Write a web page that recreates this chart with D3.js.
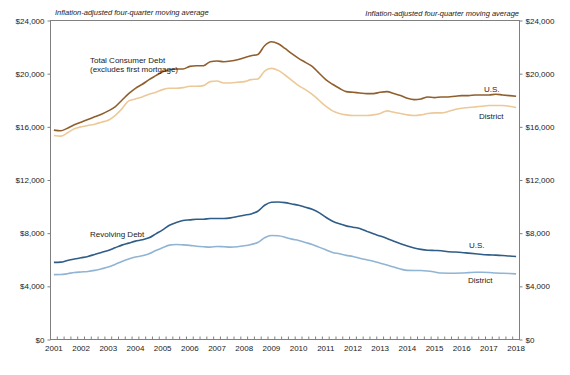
<!DOCTYPE html>
<html>
<head>
    <meta charset="utf-8">
    <title></title>
    <style>
        body { margin: 0; background: #fff; }
        text { font-family: "Liberation Sans", Arial, sans-serif; fill: #222; }
        .axis path, .axis line { stroke: #808080; }
        path.line { fill: none; stroke-width: 1.6px; }
    </style>
</head>
<body>
    <script src="https://cdn.jsdelivr.net/npm/d3@7"></script>
    <script>
        // years on the axis, one label per first quarter
        var years = [2001, 2002, 2003, 2004, 2005, 2006, 2007, 2008, 2009, 2010, 2011, 2012, 2013, 2014, 2015, 2016, 2017, 2018];
        var yTicks = [0, 4000, 8000, 12000, 16000, 20000, 24000];

        // quarterly values, 2001Q1 .. 2018Q1
        var totalUS = [15750, 15700, 15900, 16150, 16350, 16550, 16750, 16950, 17200, 17500, 18000, 18500, 18900, 19200, 19550, 19850,
            20150, 20300, 20350, 20350, 20550, 20600, 20600, 20900, 20950, 20900, 20950, 21050, 21200, 21350, 21450, 22100,
            22400, 22250, 21900, 21500, 21150, 20850, 20550, 20050, 19550, 19200, 18900, 18650, 18600, 18550, 18500, 18500,
            18600, 18650, 18500, 18350, 18150, 18050, 18100, 18250, 18200, 18250, 18250, 18300, 18350, 18350, 18400, 18400,
            18400, 18450, 18400, 18350, 18300];
        var totalDistrict = [15350, 15300, 15550, 15850, 16000, 16100, 16200, 16350, 16500, 16850, 17350, 17950, 18100, 18250, 18450, 18600,
            18800, 18900, 18900, 18950, 19050, 19050, 19100, 19400, 19450, 19300, 19300, 19350, 19400, 19550, 19600, 20200,
            20400, 20250, 19900, 19500, 19100, 18800, 18450, 18000, 17550, 17200, 17000, 16900, 16850, 16850, 16850, 16900,
            17000, 17200, 17100, 17000, 16900, 16850, 16900, 17000, 17050, 17050, 17150, 17300, 17400, 17450, 17500, 17550,
            17600, 17600, 17600, 17550, 17450];
        var revolvingUS = [5800, 5820, 5950, 6050, 6150, 6250, 6400, 6550, 6700, 6900, 7100, 7250, 7400, 7500, 7650, 7950,
            8250, 8600, 8800, 8950, 9000, 9050, 9050, 9100, 9100, 9100, 9150, 9250, 9350, 9450, 9650, 10100,
            10330, 10350, 10300, 10200, 10100, 9950, 9800, 9550, 9200, 8900, 8700, 8550, 8450, 8350, 8150, 7950,
            7780, 7600, 7400, 7200, 7030, 6880, 6780, 6720, 6700, 6680, 6600, 6580, 6550, 6500, 6450, 6400,
            6370, 6350, 6320, 6280, 6250];
        var revolvingDistrict = [4880, 4890, 4950, 5040, 5080, 5120, 5200, 5320, 5450, 5650, 5870, 6050, 6200, 6300, 6450, 6700,
            6900, 7100, 7150, 7120, 7080, 7020, 6980, 6950, 7000, 6980, 6950, 6980, 7050, 7150, 7300, 7650,
            7820, 7800, 7700, 7550, 7450, 7300, 7150, 6950, 6750, 6550, 6450, 6330, 6250, 6120, 6000, 5880,
            5740, 5600, 5450, 5300, 5200, 5190, 5190, 5150, 5080, 5000, 4990, 4990, 5000, 5030, 5060, 5060,
            5040, 5000, 4980, 4960, 4940];

        var quarters = [];
        years.forEach(function(y) {
            for (var q = 1; q <= 4; q++) {
                if (y === 2018 && q > 1) break;
                quarters.push(y + "Q" + q);
            }
        });

        var width = 570, height = 375;
        var plotLeft = 50.5, plotRight = 519.5, plotTop = 20.5, plotBottom = 339.5;

        var svg = d3.select("body").append("svg")
            .attr("width", width)
            .attr("height", height);

        var x = d3.scalePoint()
            .domain(quarters)
            .range([plotLeft, plotRight])
            .padding(0.5);
        var y = d3.scaleLinear()
            .domain([0, 24000])
            .range([plotBottom, plotTop]);

        var fmt = function(d) { return "$" + d3.format(",")(d); };

        // frame
        svg.append("rect")
            .attr("x", plotLeft).attr("y", plotTop)
            .attr("width", plotRight - plotLeft).attr("height", plotBottom - plotTop)
            .attr("fill", "none").attr("stroke", "#808080");

        var yl = svg.append("g").attr("class", "axis")
            .attr("transform", "translate(" + plotLeft + ",0)")
            .call(d3.axisLeft(y).tickValues(yTicks).tickSize(3).tickPadding(3).tickFormat(fmt));
        var yr = svg.append("g").attr("class", "axis")
            .attr("transform", "translate(" + plotRight + ",0)")
            .call(d3.axisRight(y).tickValues(yTicks).tickSize(3).tickPadding(3).tickFormat(fmt));
        [yl, yr].forEach(function(g) {
            g.select(".domain").remove();
            g.selectAll("text").style("font-size", "8px").attr("fill", "#222");
        });

        // quarter tick marks on the bottom, pointing up
        var step = x.step();
        svg.append("g").selectAll("line")
            .data(quarters.concat(["end"]))
            .enter().append("line")
            .attr("x1", function(d, i) { return plotLeft + i * step; })
            .attr("x2", function(d, i) { return plotLeft + i * step; })
            .attr("y1", plotBottom)
            .attr("y2", plotBottom - 3)
            .attr("stroke", "#808080");

        svg.append("g").selectAll("text")
            .data(years)
            .enter().append("text")
            .attr("x", function(d) { return x(d + "Q1"); })
            .attr("y", plotBottom + 11)
            .attr("text-anchor", "middle")
            .style("font-size", "8px")
            .text(function(d) { return d; });

        var line = d3.line()
            .x(function(d, i) { return x(quarters[i]); })
            .y(function(d) { return y(d); })
            .curve(d3.curveMonotoneX);

        var series = [
            { values: totalDistrict, color: "#ecc998" },
            { values: totalUS, color: "#8f5f2e" },
            { values: revolvingDistrict, color: "#90b4d4" },
            { values: revolvingUS, color: "#2f5d87" }
        ];
        svg.append("g").selectAll("path")
            .data(series)
            .enter().append("path")
            .attr("class", "line")
            .attr("stroke", function(d) { return d.color; })
            .attr("d", function(d) { return line(d.values); });

        // notes
        svg.append("text").attr("x", 55).attr("y", 15)
            .style("font-size", "7.5px").style("font-style", "italic")
            .text("Inflation-adjusted four-quarter moving average");
        svg.append("text").attr("x", 519).attr("y", 16)
            .attr("text-anchor", "end")
            .style("font-size", "7.5px").style("font-style", "italic")
            .text("Inflation-adjusted four-quarter moving average");

        var labels = [
            { t: "Total Consumer Debt", x: 90, y: 63 },
            { t: "(excludes first mortgage)", x: 90, y: 71.5 },
            { t: "U.S.", x: 484, y: 92 },
            { t: "District", x: 479, y: 119 },
            { t: "Revolving Debt", x: 90, y: 237 },
            { t: "U.S.", x: 469, y: 248 },
            { t: "District", x: 468, y: 283 }
        ];
        svg.append("g").selectAll("text")
            .data(labels)
            .enter().append("text")
            .attr("x", function(d) { return d.x; })
            .attr("y", function(d) { return d.y; })
            .style("font-size", "8px")
            .text(function(d) { return d.t; });
    </script>
</body>
</html>
